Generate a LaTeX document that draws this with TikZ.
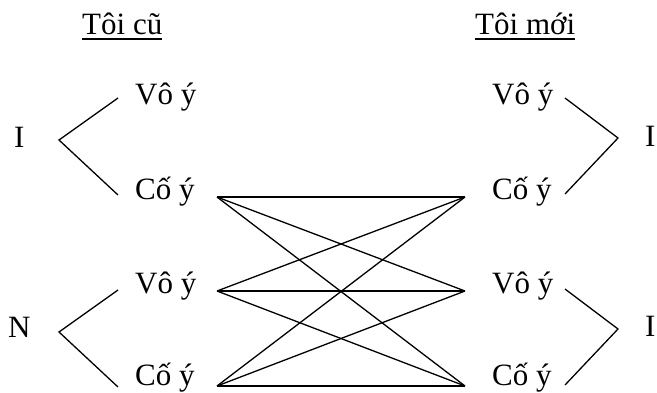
\documentclass[tikz,border=0pt]{standalone}
\usepackage{fontspec}
\setmainfont{Liberation Serif}
\begin{document}
\begin{tikzpicture}[x=1pt,y=-1pt,
  lbl/.style={inner sep=0pt, anchor=base west, font=\fontsize{31}{36}\selectfont},
  link/.style={line width=1.3pt},
  brace/.style={line width=1.3pt},
  uline/.style={line width=1.2pt}]
\useasboundingbox (0,0) rectangle (657,392);
% titles
\node[lbl] (t1) at (82,34) {Tôi cũ};
\node[lbl] (t2) at (475,34) {Tôi mới};
\draw[uline] ([yshift=-5pt]t1.base west) -- ([yshift=-5pt]t1.base east);
\draw[uline] ([yshift=-5pt]t2.base west) -- ([yshift=-5pt]t2.base east);
% side letters
\node[lbl] (li) at (14,147) {I};
\node[lbl] (ln) at (8,337) {N};
\node[lbl] (ri1) at (645,146) {I};
\node[lbl] (ri2) at (645,336) {I};
% left labels
\node[lbl] (lv1) at (135,104) {Vô ý};
\node[lbl] (lc1) at (135,199) {Cố ý};
\node[lbl] (lv2) at (135,293) {Vô ý};
\node[lbl] (lc2) at (135,385) {Cố ý};
% right labels
\node[lbl] (rv1) at (492,104) {Vô ý};
\node[lbl] (rc1) at (492,199) {Cố ý};
\node[lbl] (rv2) at (492,293) {Vô ý};
\node[lbl] (rc2) at (492,385) {Cố ý};
% bracket points
\coordinate (b1a) at (118,98);  \coordinate (b1v) at (59,140);  \coordinate (b1b) at (118,195);
\coordinate (b2a) at (118,290); \coordinate (b2v) at (59,332);  \coordinate (b2b) at (118,387);
\coordinate (b3a) at (565,98);  \coordinate (b3v) at (618,138); \coordinate (b3b) at (565,194);
\coordinate (b4a) at (565,289); \coordinate (b4v) at (618,329); \coordinate (b4b) at (565,385);
\draw[brace] (b1a) -- (b1v) -- (b1b);
\draw[brace] (b2a) -- (b2v) -- (b2b);
\draw[brace] (b3a) -- (b3v) -- (b3b);
\draw[brace] (b4a) -- (b4v) -- (b4b);
% link vertices
\coordinate (L1) at (217,197); \coordinate (L2) at (217,291); \coordinate (L3) at (217,386);
\coordinate (R1) at (465,197); \coordinate (R2) at (465,291); \coordinate (R3) at (465,386);
\foreach \a in {L1,L2,L3}{
  \foreach \b in {R1,R2,R3}{
    \draw[link] (\a) -- (\b);
  }
}
\end{tikzpicture}
\end{document}
